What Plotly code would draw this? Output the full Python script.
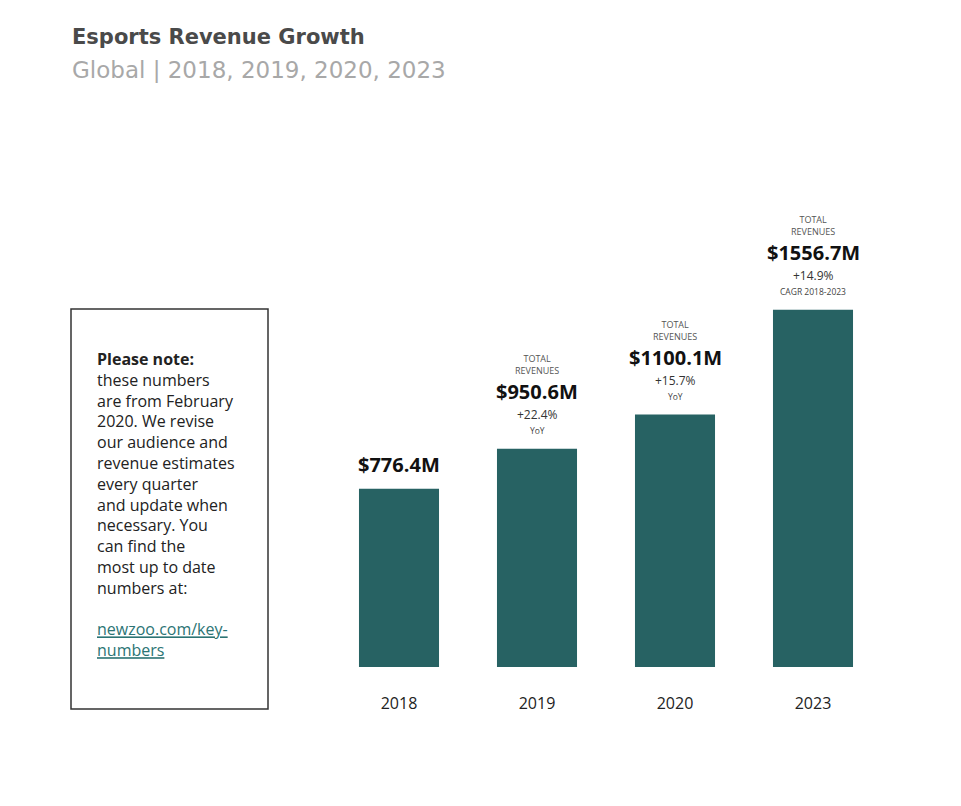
import plotly.graph_objects as go

# ---- data ----
years = ["2018", "2019", "2020", "2023"]
revenue = [776.4, 950.6, 1100.1, 1556.7]
value_labels = ["$776.4M", "$950.6M", "$1100.1M", "$1556.7M"]
growth_labels = ["", "+22.4%", "+15.7%", "+14.9%"]
growth_notes = ["", "YoY", "YoY", "CAGR 2018-2023"]
header_labels = ["", "TOTAL<br>REVENUES", "TOTAL<br>REVENUES", "TOTAL<br>REVENUES"]

title = "Esports Revenue Growth"
subtitle = "Global | 2018, 2019, 2020, 2023"
note_lines = [
    "<b>Please note:</b>",
    "these numbers",
    "are from February",
    "2020. We revise",
    "our audience and",
    "revenue estimates",
    "every quarter",
    "and update when",
    "necessary. You",
    "can find the",
    "most up to date",
    "numbers at:",
    "",
    "<span style='color:#2b7474'><u>newzoo.com/key-</u></span>",
    "<span style='color:#2b7474'><u>numbers</u></span>",
]

# ---- layout geometry (page body adds an 8px offset) ----
OFF = 8
W, H = 961, 806
L, R, T, B = 330 - OFF, 961 - 882 + OFF, 200 - OFF, 806 - 667 + OFF
PW, PH = W - L - R, H - T - B

def px(x):
    return (x - OFF - L) / PW

def py(y):
    return (H - B - (y - OFF)) / PH

FONT = "Open Sans"
TFONT = "DejaVu Sans"
BAR = "#276263"

fig = go.Figure()
fig.add_trace(go.Bar(
    x=years, y=revenue, marker=dict(color=BAR, line=dict(width=0)),
    hoverinfo="x+y",
))

ann = []
for yr, v, lab, g, n, h in zip(years, revenue, value_labels, growth_labels,
                                growth_notes, header_labels):
    xi = years.index(yr)  # category index on the category axis
    if h:
        ann.append(dict(x=xi, y=v, text=h, showarrow=False, yanchor="middle",
                        yshift=84, font=dict(family=FONT, size=9, color="#555555")))
        ann.append(dict(x=xi, y=v, text=f"<b>{lab}</b>", showarrow=False,
                        yanchor="middle", yshift=57,
                        font=dict(family=FONT, size=20, color="#111111")))
        ann.append(dict(x=xi, y=v, text=g, showarrow=False, yanchor="middle",
                        yshift=34, font=dict(family=FONT, size=12, color="#333333")))
        ann.append(dict(x=xi, y=v, text=n, showarrow=False, yanchor="middle",
                        yshift=18, font=dict(family=FONT, size=8.5, color="#444444")))
    else:
        ann.append(dict(x=xi, y=v, text=f"<b>{lab}</b>", showarrow=False,
                        yanchor="middle", yshift=24,
                        font=dict(family=FONT, size=20, color="#111111")))

ann.append(dict(xref="paper", yref="paper", x=px(70), y=py(37), xanchor="left",
                yanchor="middle", showarrow=False, text=f"<b>{title}</b>",
                font=dict(family=TFONT, size=21, color="#4a4a4a")))
ann.append(dict(xref="paper", yref="paper", x=px(70), y=py(70), xanchor="left",
                yanchor="middle", showarrow=False, text=subtitle,
                font=dict(family=TFONT, size=23, color="#a8a8a8")))
ann.append(dict(xref="paper", yref="paper", x=px(95), y=py(346), xanchor="left",
                yanchor="top", showarrow=False, align="left",
                text="<br>".join(note_lines),
                font=dict(family=FONT, size=16, color="#222222")))

fig.add_shape(type="rect", xref="paper", yref="paper",
              x0=px(71), x1=px(268), y0=py(709), y1=py(309),
              line=dict(color="#333333", width=1.5), fillcolor="rgba(0,0,0,0)")

fig.update_layout(
    width=W, height=H,
    margin=dict(l=L, r=R, t=T, b=B),
    paper_bgcolor="white", plot_bgcolor="white",
    showlegend=False, bargap=0.42,
    annotations=ann,
    font=dict(family=FONT),
    xaxis=dict(type="category", categoryorder="array", categoryarray=years,
               range=[-0.5, len(years) - 0.5], autorange=False,
               showgrid=False, zeroline=False, showline=False,
               ticks="outside", ticklen=22, tickcolor="rgba(0,0,0,0)",
               tickfont=dict(family=FONT, size=16, color="#222222")),
    yaxis=dict(range=[0, PH / 0.2295], autorange=False, visible=False,
               showgrid=False),
)

fig.write_html("out.html")
